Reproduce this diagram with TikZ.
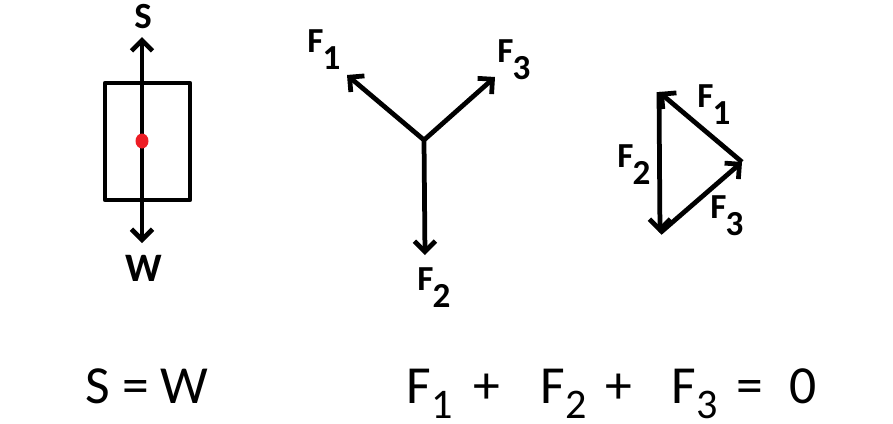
\documentclass[tikz,border=0pt]{standalone}
\usepackage{fontspec}
\setmainfont{Carlito}
\usetikzlibrary{arrows.meta}
\tikzstyle{every path}=[line width=0.095cm, line join=round]
\tikzstyle{force}=[-{Straight Barb[length=6pt,width=12pt]}]
\tikzstyle{forcelabel}=[inner sep=0pt, font=\fontsize{20}{22}\selectfont\bfseries]
\tikzstyle{eqterm}=[inner sep=0pt, anchor=base west, font=\fontsize{30.5}{32}\selectfont]
\definecolor{centre}{RGB}{237,28,36}
\newcommand{\fsub}[2]{#1\kern-0.5pt\raisebox{-10pt}{#2}}
\newcommand{\eqsub}[1]{\raisebox{-9pt}{\fontsize{24}{24}\selectfont #1}}

\begin{document}
\begin{tikzpicture}[x=0.02cm, y=-0.02cm]
    \useasboundingbox (0,0) rectangle (893,423);

    % body with its two forces
    \coordinate (bodyC) at (142,141);
    \coordinate (sTip) at (142,37);
    \coordinate (wTip) at (142,243);
    \draw (105,83) rectangle (190,200);
    \draw[force] (bodyC) -- (sTip);
    \draw[force] (bodyC) -- (wTip);
    \fill[centre] (bodyC) ellipse [x radius=0.13cm, y radius=0.15cm];
    \node[forcelabel, anchor=base, font=\fontsize{21}{23}\selectfont\bfseries] (sLab) at (143,28) {S};
    \node[forcelabel, anchor=base, font=\fontsize{23}{25}\selectfont\bfseries] (wLab) at (144,281) {W};

    % three forces from one point
    \coordinate (junction) at (424,140);
    \coordinate (oneTip) at (347,75);
    \coordinate (twoTip) at (425,255);
    \coordinate (threeTip) at (495,77);
    \draw[force] (junction) -- (oneTip);
    \draw[force] (junction) -- (twoTip);
    \draw[force] (junction) -- (threeTip);
    \node[forcelabel, anchor=base west] (oneLab) at (305,52) {\fsub{F}{1}};
    \node[forcelabel, anchor=base west] (twoLab) at (415,290) {\fsub{F}{2}};
    \node[forcelabel, anchor=base west] (threeLab) at (495,62) {\fsub{F}{3}};

    % triangle of forces
    \coordinate (triTop) at (659,92);
    \coordinate (triRight) at (742,162);
    \coordinate (triBottom) at (660,233);
    \draw[force] (triRight) -- (triTop);
    \draw[force] (triTop) -- (triBottom);
    \draw[force] (triBottom) -- (triRight);
    \node[forcelabel, anchor=base west] (triOne) at (695,107) {\fsub{F}{1}};
    \node[forcelabel, anchor=base west] (triTwo) at (615,167) {\fsub{F}{2}};
    \node[forcelabel, anchor=base west] (triThree) at (708,218) {\fsub{F}{3}};

    % equations
    \node[eqterm] (eqBody) at (83,403) {S = W};
    \node[eqterm] (eqOne) at (404,403) {F\eqsub{1}};
    \node[eqterm] (eqPlusA) at (471,403) {+};
    \node[eqterm] (eqTwo) at (538,403) {F\eqsub{2}};
    \node[eqterm] (eqPlusB) at (603,403) {+};
    \node[eqterm] (eqThree) at (669,403) {F\eqsub{3}};
    \node[eqterm] (eqEquals) at (734,403) {=};
    \node[eqterm] (eqZero) at (787,403) {0};
\end{tikzpicture}
\end{document}
